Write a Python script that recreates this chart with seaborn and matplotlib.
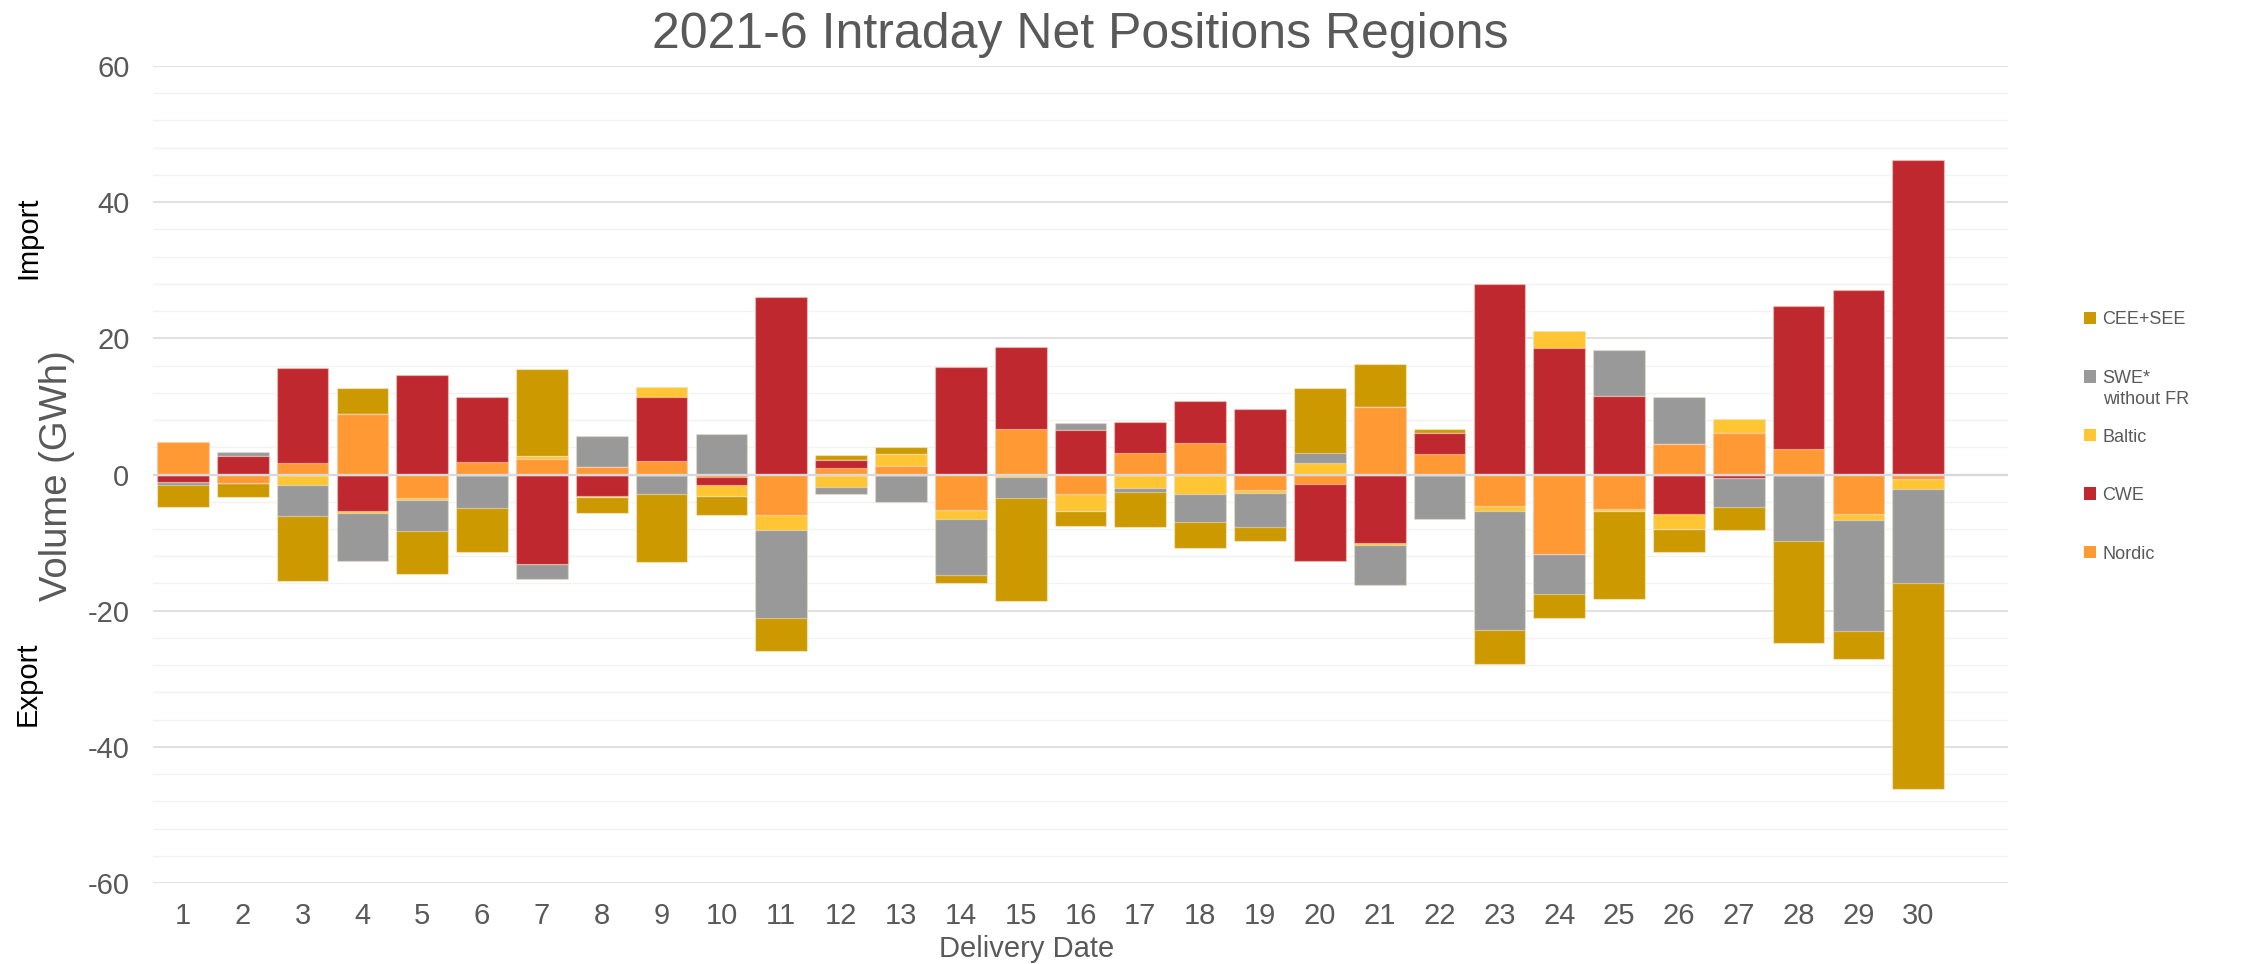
import numpy as np
import matplotlib
matplotlib.use("Agg")
import matplotlib.pyplot as plt
import seaborn as sns
from matplotlib.patches import Patch
from matplotlib.ticker import MultipleLocator
from matplotlib import font_manager as fm

# ---------------- data (GWh), stacking order from zero outwards ----------------
days = [str(d) for d in range(1, 31)]

nordic = [4.8, -1.2, 1.67, 8.9, -3.4, 1.86, 2.25, 1.08, 2.0, -0.4,
          -5.9, 0.9, 1.27, -5.2, 6.67, -2.8, 3.1, 4.56, -2.25, -1.35,
          9.9, 3.05, -4.7, -11.7, -5.1, 4.55, 6.1, 3.75, -5.8, -0.6]
cwe = [-1.1, 2.75, 13.9, -5.4, 14.6, 9.5, -13.2, -3.1, 9.4, -1.2,
       26.0, 1.3, 0.0, 15.8, 12.0, 6.5, 4.6, 6.2, 9.65, -11.4,
       -10.1, 3.1, 28.0, 18.6, 11.55, -5.8, -0.5, 21.0, 27.1, 46.2]
baltic = [0.0, -0.1, -1.55, -0.3, -0.3, 0.0, 0.4, -0.2, 1.4, -1.6,
          -2.2, -1.85, 1.7, -1.4, -0.3, -2.55, -1.95, -2.9, -0.5, 1.7,
          -0.25, 0.0, -0.7, 2.45, -0.2, -2.15, 2.1, 0.0, -0.9, -1.6]
swe = [-0.5, 0.5, -4.6, -7.0, -4.6, -4.95, -2.2, 4.56, -2.8, 6.0,
       -13.0, -1.0, -4.0, -8.2, -3.2, 1.0, -0.55, -4.15, -4.9, 1.4,
       -5.95, -6.6, -17.4, -5.8, 6.7, 6.85, -4.3, -9.7, -16.3, -13.7]
cee_see = [-3.2, -2.0, -9.5, 3.8, -6.3, -6.4, 12.8, -2.4, -10.05, -2.75,
           -4.85, 0.7, 1.0, -1.1, -15.1, -2.2, -5.25, -3.7, -2.05, 9.6,
           6.4, 0.5, -5.1, -3.55, -13.0, -3.5, -3.4, -15.1, -4.1, -30.3]

series_labels = ["Nordic", "CWE", "Baltic", "SWE*", "CEE+SEE"]
series_colors = ["#FF9933", "#C0282F", "#FFC533", "#999999", "#CC9900"]

title_text = "2021-6 Intraday Net Positions Regions"
x_label = "Delivery Date"
y_label = "Volume (GWh)"

# ---------------- style ----------------
sns.set_theme(style="white")
try:
    fm.findfont(fm.FontProperties(family="Liberation Sans Narrow"), fallback_to_default=False)
    has_narrow = True
except Exception:
    has_narrow = False

if has_narrow:
    plt.rcParams["font.family"] = ["Liberation Sans Narrow", "Liberation Sans", "DejaVu Sans"]
    fs_leg = 16
else:
    plt.rcParams["font.family"] = ["Liberation Sans", "DejaVu Sans"]
    fs_leg = 13
plt.rcParams["axes.unicode_minus"] = False
fs_title, fs_tick, fs_xlab = 36, 21, 21
rot_family = ["Liberation Sans", "DejaVu Sans"]
txt_color = "#595959"

W, H = 2244, 964
fig = plt.figure(figsize=(W / 100, H / 100), dpi=100)
ax = fig.add_axes([153 / W, 1 - 883 / H, (2008 - 153) / W, (883 - 66) / H])

# ---------------- stacked bars (positives and negatives stacked separately) ----------------
vals = np.array([nordic, cwe, baltic, swe, cee_see], dtype=float)
pos_cum = np.clip(vals, 0, None).cumsum(axis=0)
neg_cum = np.clip(vals, None, 0).cumsum(axis=0)

for k in range(len(series_labels) - 1, -1, -1):
    for cum in (pos_cum[k], neg_cum[k]):
        sns.barplot(x=days, y=cum, order=days, color=series_colors[k], saturation=1,
                    width=0.864, errorbar=None, ax=ax,
                    edgecolor=(1, 1, 1, 0.4), linewidth=0.9, zorder=2)

ax.axhline(0, color="#D9D9D9", lw=1.7, zorder=5)

# ---------------- axes ----------------
ax.set_xlim(-0.5, 30.5)
ax.set_ylim(-60, 60)
ax.set_yticks(np.arange(-60, 61, 20))
ax.yaxis.set_minor_locator(MultipleLocator(4))
ax.grid(which="major", axis="y", color="#D9D9D9", lw=1.1, zorder=0)
ax.grid(which="minor", axis="y", color="#F2F2F2", lw=1.0, zorder=0)
ax.grid(which="both", axis="x", visible=False)
ax.set_axisbelow(True)
for s in ax.spines.values():
    s.set_visible(False)
ax.tick_params(axis="both", which="both", length=0, labelsize=fs_tick, labelcolor=txt_color)
ax.tick_params(axis="y", pad=17)
ax.tick_params(axis="x", pad=14)
ax.set_xlabel("")
ax.set_ylabel("")

# ---------------- texts ----------------
fig.text(1080.5 / W, 1 - 48 / H, title_text, ha="center", va="baseline",
         fontsize=fs_title, color=txt_color)
fig.text(1026.5 / W, 1 - 957 / H, x_label, ha="center", va="baseline",
         fontsize=fs_xlab, color=txt_color)
fig.text(57 / W, 1 - 476 / H, y_label, ha="center", va="center", rotation=90,
         fontsize=27.5, color=txt_color, family=rot_family)
fig.text(28 / W, 1 - 238 / H, "Import", ha="center", va="center", rotation=90,
         fontsize=21, color="black", family=rot_family)
fig.text(28 / W, 1 - 684 / H, "Export", ha="center", va="center", rotation=90,
         fontsize=21, color="black", family=rot_family)

# ---------------- legend ----------------
order = [4, 3, 2, 1, 0]
handles = [Patch(facecolor=series_colors[i], edgecolor="none") for i in order]
labels = [series_labels[i] for i in order]
leg = fig.legend(handles, labels, loc="center left", bbox_to_anchor=(2084 / W, 1 - 437 / H),
                 frameon=False, fontsize=fs_leg, handlelength=12.3 / (fs_leg * 1.389),
                 handleheight=12.3 / (fs_leg * 1.389),
                 handletextpad=0.35, labelspacing=2.3, borderpad=0, borderaxespad=0,
                 labelcolor=txt_color)
fig.canvas.draw()
renderer = fig.canvas.get_renderer()
tb = leg.get_texts()[1].get_window_extent(renderer)
fig.text(tb.x0 / W, (tb.y0 - 21) / H, "without FR", ha="left", va="bottom",
         fontsize=fs_leg, color=txt_color)

fig.savefig("out.png", dpi=100, facecolor="white")
